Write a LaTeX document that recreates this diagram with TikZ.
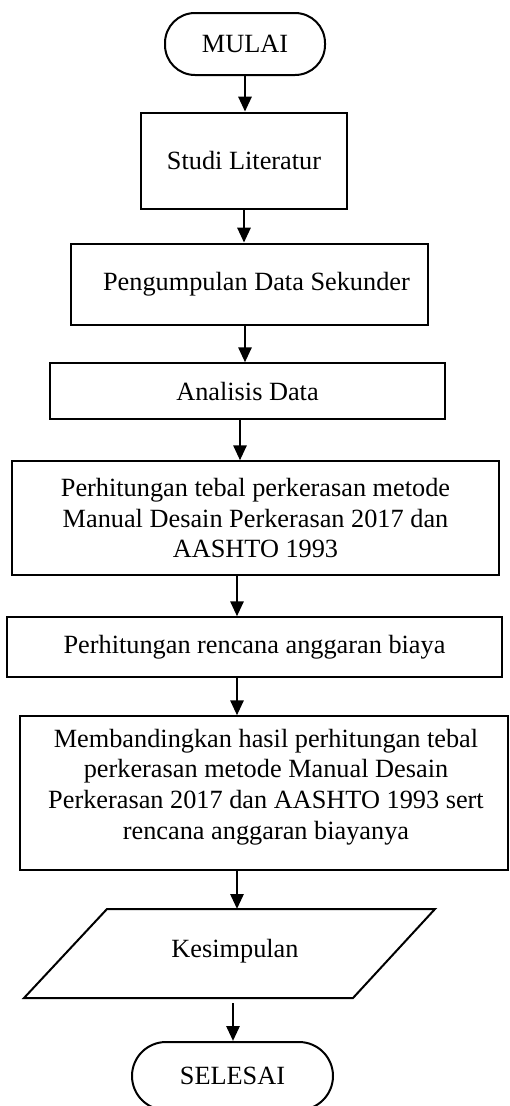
\documentclass[tikz,border=0pt]{standalone}
\usepackage{fontspec}
\setmainfont{Liberation Serif}
\usetikzlibrary{arrows.meta}
\begin{document}
\begin{tikzpicture}[x=1pt,y=-1pt,
  every node/.style={font=\fontsize{26.3}{30.8}\selectfont, align=center, inner sep=0pt},
  term/.style={draw, line width=2pt, rounded corners=30pt},
  thickbox/.style={draw, line width=2.7pt},
  thinbox/.style={draw, line width=1.3pt},
  arr/.style={line width=2.8pt, -{Triangle[length=15pt,width=13pt]}}]
\useasboundingbox (0,0) rectangle (509,1106);
\node[term, minimum width=160pt, minimum height=62pt] (mulai) at (245,44) {MULAI};
\node[thickbox, minimum width=206pt, minimum height=96pt] (studi) at (244,161) {Studi Literatur};
\node[thickbox, minimum width=357pt, minimum height=81pt] (kumpul) at (249.5,284.5) {\hspace*{14pt}Pengumpulan Data Sekunder};
\node[thinbox, minimum width=395pt, minimum height=56pt] (analisis) at (247.5,391) {Analisis Data};
\node[thinbox, minimum width=487pt, minimum height=114pt] (tebal) at (255.5,518) {Perhitungan tebal perkerasan metode\\Manual Desain Perkerasan 2017 dan\\AASHTO 1993};
\node[thinbox, minimum width=495pt, minimum height=60pt] (rencana) at (254.5,647) {Perhitungan rencana anggaran biaya};
\node[thinbox, minimum width=488pt, minimum height=154pt] (banding) at (264,793) {};
\node (bandingtext) at (266,787) {Membandingkan hasil perhitungan tebal\\perkerasan metode Manual Desain\\Perkerasan 2017 dan AASHTO 1993 sert\\rencana anggaran biayanya};
\draw[line width=2pt] (107,909) -- (435,909) -- (353,998) -- (24,998) -- cycle;
\node (kesim) at (235,951) {Kesimpulan};
\coordinate (ktop) at (237,909);
\coordinate (kbot) at (233,1003);
\node[term, minimum width=201pt, minimum height=68pt, rounded corners=34pt] (selesai) at (232.5,1076) {SELESAI};
% arrow x positions
\coordinate (a1) at (245,0);
\coordinate (a2) at (244,0);
\coordinate (a3) at (245,0);
\coordinate (a4) at (240,0);
\coordinate (a5) at (237,0);
\coordinate (a6) at (237,0);
\coordinate (a8) at (233,0);
\draw[arr] (mulai.south -| a1) -- (studi.north -| a1);
\draw[arr] (studi.south -| a2) -- (kumpul.north -| a2);
\draw[arr] (kumpul.south -| a3) -- (analisis.north -| a3);
\draw[arr] (analisis.south -| a4) -- (tebal.north -| a4);
\draw[arr] (tebal.south -| a5) -- (rencana.north -| a5);
\draw[arr] (rencana.south -| a6) -- (banding.north -| a6);
\draw[arr] (banding.south -| ktop) -- (ktop);
\draw[arr] (kbot) -- (selesai.north -| a8);
\end{tikzpicture}
\end{document}
